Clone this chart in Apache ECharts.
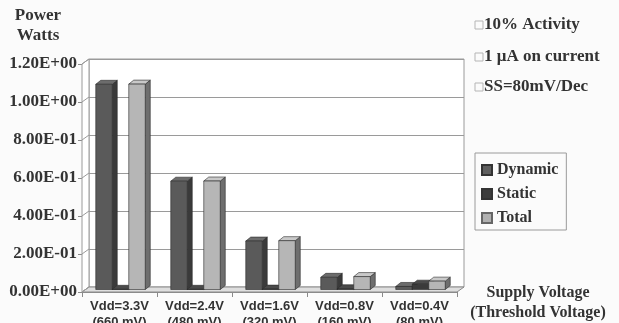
<!DOCTYPE html>
<html>
<head>
<meta charset="utf-8">
<script src="https://cdn.jsdelivr.net/npm/echarts@6/dist/echarts.min.js"></script>
<style>
  html, body { margin: 0; padding: 0; background: #fbfbfb; }
  #chart { width: 619px; height: 323px; }
</style>
</head>
<body>
<div id="chart"></div>
<script>
var categories = ['Vdd=3.3V\n(660 mV)', 'Vdd=2.4V\n(480 mV)', 'Vdd=1.6V\n(320 mV)', 'Vdd=0.8V\n(160 mV)', 'Vdd=0.4V\n(80 mV)'];
var dynamicW = [1.08, 0.57, 0.255, 0.064, 0.016];
var staticW = [0.001, 0.001, 0.002, 0.004, 0.028];
var totalW = [1.081, 0.571, 0.257, 0.068, 0.044];
var yTicks = [0, 0.2, 0.4, 0.6, 0.8, 1.0, 1.2];
var notes = ['10% Activity', '1 \u03bcA on current', 'SS=80mV/Dec'];

var chart = echarts.init(document.getElementById('chart'));

var SERIF = '"Liberation Serif", "Times New Roman", serif';
var SANS = '"Liberation Sans", Arial, sans-serif';
// depth of the back wall and of the bars
var DX = 7, DY = -5;
var BDX = 5, BDY = -4, BX = 1, BY = -2.5;

function sciLabel(v) {
    if (v === 0) return '0.00E+00';
    var e = Math.floor(Math.log10(v) + 1e-9);
    var m = v / Math.pow(10, e);
    var s = e < 0 ? '-' : '+';
    var a = Math.abs(e);
    return m.toFixed(2) + 'E' + s + (a < 10 ? '0' + a : a);
}

function bar3d(k, front, side, topc) {
    return function (params, api) {
        var i = api.value(0), v = api.value(1);
        var base = api.coord([i, 0]);
        var top = api.coord([i, v]);
        var band = api.size([1, 0])[0];
        var w = band * 0.22;
        var x0 = base[0] + (k - 1.5) * w + BX;
        var x1 = x0 + w;
        var y0 = base[1] + BY;
        var y1 = top[1] + BY;
        var st = { stroke: '#2a2a2a', lineWidth: 0.6 };
        return {
            type: 'group',
            children: [
                { type: 'polygon', shape: { points: [[x1, y1], [x1 + BDX, y1 + BDY], [x1 + BDX, y0 + BDY], [x1, y0]] },
                  style: Object.assign({ fill: side }, st) },
                { type: 'polygon', shape: { points: [[x0, y1], [x0 + BDX, y1 + BDY], [x1 + BDX, y1 + BDY], [x1, y1]] },
                  style: Object.assign({ fill: topc }, st) },
                { type: 'rect', shape: { x: x0, y: y1, width: w, height: y0 - y1 },
                  style: Object.assign({ fill: front }, st) }
            ]
        };
    };
}

function frame(params, api) {
    var band = api.size([1, 0])[0];
    var l = api.coord([0, 0]);
    var r = api.coord([categories.length - 1, 0]);
    var xL = l[0] - band / 2, xR = r[0] + band / 2, y0 = l[1];
    var yTop = api.coord([0, yTicks[yTicks.length - 1]])[1];
    var kids = [
        { type: 'polygon', shape: { points: [[xL, y0], [xL, yTop], [xL + DX, yTop + DY], [xL + DX, y0 + DY]] },
          style: { fill: '#ffffff', stroke: '#9a9a9a', lineWidth: 1 } },
        { type: 'polygon', shape: { points: [[xL, y0], [xR, y0], [xR + DX, y0 + DY], [xL + DX, y0 + DY]] },
          style: { fill: '#dedede', stroke: '#8a8a8a', lineWidth: 1 } }
    ];
    yTicks.forEach(function (t) {
        var y = api.coord([0, t])[1];
        kids.push({ type: 'line', shape: { x1: xL, y1: y, x2: xL + DX, y2: y + DY },
                    style: { stroke: '#9a9a9a', lineWidth: 1 } });
    });
    return { type: 'group', children: kids };
}

var noteGraphics = [];
notes.forEach(function (t, i) {
    var cy = [25, 57, 87][i];
    noteGraphics.push({ type: 'rect', x: 475, y: cy - 4, shape: { width: 8, height: 8 },
                        style: { fill: 'none', stroke: '#b5b5b5', lineWidth: 1 } });
    noteGraphics.push({ type: 'text', x: 484, y: cy,
                        style: { text: t, font: 'bold 17px ' + SERIF, fill: '#333', verticalAlign: 'middle' } });
});

chart.setOption({
    backgroundColor: '#fbfbfb',
    animation: false,
    graphic: noteGraphics.concat([
        { type: 'text', x: 38, y: 6,
          style: { text: 'Power\nWatts', font: 'bold 17px ' + SERIF, fill: '#333', align: 'center', lineHeight: 20 } },
        { type: 'text', x: 538, y: 283,
          style: { text: 'Supply Voltage\n(Threshold Voltage)', font: 'bold 16px ' + SERIF, fill: '#333',
                   align: 'center', lineHeight: 20 } }
    ]),
    legend: {
        orient: 'vertical',
        left: 475, top: 153,
        padding: [9, 8, 4, 6],
        itemGap: 8,
        itemWidth: 10, itemHeight: 10,
        icon: 'rect',
        borderColor: '#9a9a9a', borderWidth: 1,
        textStyle: { fontFamily: SERIF, fontWeight: 'bold', fontSize: 16, color: '#333' },
        data: ['Dynamic', 'Static', 'Total']
    },
    grid: [
        { left: 82, right: 162, top: 64, bottom: 31, containLabel: false, outerBoundsMode: 'none' },
        { left: 89, right: 155, top: 59, bottom: 36, containLabel: false, outerBoundsMode: 'none',
          show: true, backgroundColor: '#ffffff', borderColor: '#9a9a9a', borderWidth: 1 }
    ],
    xAxis: [
        { type: 'category', gridIndex: 0, data: categories,
          axisLine: { show: true, lineStyle: { color: '#8a8a8a' } },
          axisTick: { show: true, length: 5, lineStyle: { color: '#8a8a8a' } },
          axisLabel: { interval: 0, margin: 6, fontFamily: SANS, fontWeight: 'bold', fontSize: 13, lineHeight: 16, color: '#333' } },
        { type: 'category', gridIndex: 1, data: categories,
          axisLine: { show: false }, axisTick: { show: false }, axisLabel: { show: false } }
    ],
    yAxis: [
        { type: 'value', gridIndex: 0, min: 0, max: 1.2, interval: 0.2,
          axisLine: { show: true, lineStyle: { color: '#8a8a8a' } },
          axisTick: { show: true, length: 4, lineStyle: { color: '#8a8a8a' } },
          splitLine: { show: false },
          axisLabel: { margin: 5, formatter: sciLabel, fontFamily: SERIF, fontWeight: 'bold', fontSize: 17, color: '#333' } },
        { type: 'value', gridIndex: 1, min: 0, max: 1.2, interval: 0.2,
          axisLine: { show: false }, axisTick: { show: false }, axisLabel: { show: false },
          splitLine: { show: true, lineStyle: { color: '#9a9a9a', width: 1.2 } } }
    ],
    series: [
        { type: 'custom', name: 'frame', xAxisIndex: 0, yAxisIndex: 0, z: 1, silent: true,
          renderItem: frame, data: [[0, 0]] },
        { type: 'custom', name: 'Dynamic', xAxisIndex: 0, yAxisIndex: 0, z: 3,
          itemStyle: { color: '#5e5e5e', borderColor: '#333', borderWidth: 1 },
          renderItem: bar3d(0, '#5a5a5a', '#3a3a3a', '#6c6c6c'),
          data: dynamicW.map(function (v, i) { return [i, v]; }) },
        { type: 'custom', name: 'Static', xAxisIndex: 0, yAxisIndex: 0, z: 3,
          itemStyle: { color: '#3c3c3c', borderColor: '#333', borderWidth: 1 },
          renderItem: bar3d(1, '#3a3a3a', '#262626', '#4a4a4a'),
          data: staticW.map(function (v, i) { return [i, v]; }) },
        { type: 'custom', name: 'Total', xAxisIndex: 0, yAxisIndex: 0, z: 3,
          itemStyle: { color: '#b0b0b0', borderColor: '#666', borderWidth: 1 },
          renderItem: bar3d(2, '#b6b6b6', '#6e6e6e', '#c9c9c9'),
          data: totalW.map(function (v, i) { return [i, v]; }) }
    ]
});
</script>
</body>
</html>
